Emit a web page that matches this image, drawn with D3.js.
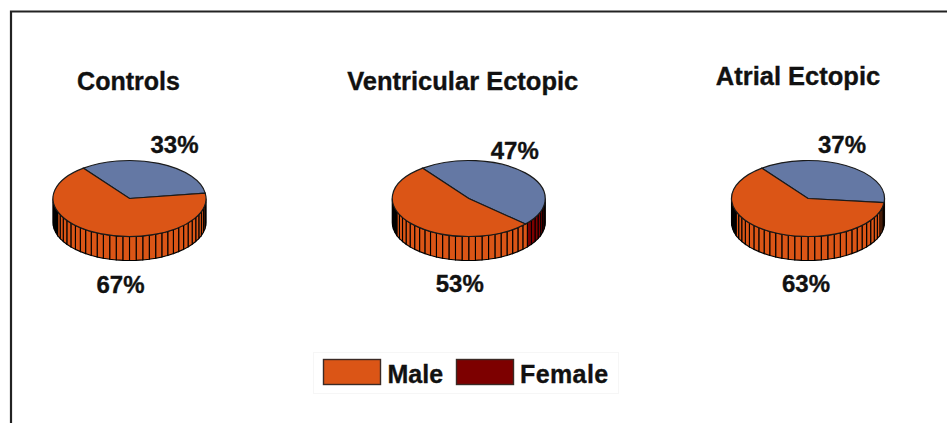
<!DOCTYPE html>
<html>
<head>
<meta charset="utf-8">
<script src="https://cdn.jsdelivr.net/npm/d3@7"></script>
<style>
  html, body { margin: 0; padding: 0; background: #fff; }
  text { font-family: "Liberation Sans", Arial, sans-serif; font-weight: bold; fill: #111; stroke: #111; stroke-width: 0.35; }
</style>
</head>
<body>
<div class="canvas"></div>
<script>
const categories = ['Controls', 'Ventricular Ectopic', 'Atrial Ectopic']
const male = [67, 53, 63]
const female = [33, 47, 37]
const legendLabels = ['Male', 'Female']

const width = 947, height = 423
const rx = 76.5, ry = 38, depth = 24, cy = 198.5
const ribStep = 5
const startDeg = -37
const darkFrom = 250 // ribs on the far left merge into black

const colors = {Male: '#db5516', Female: '#7d0000', top: '#6478a4', line: '#1a1a1a'}

// label spots around each pie, relative to its centre
const titlePos = [[-1, -108.5], [-6, -108.5], [-10, -113.5]]
const femalePos = [[45, -46], [46, -40], [34, -46]]
const malePos = [[-9, 94.5], [-9, 93.5], [-2, 93.5]]

const svg = d3.select('.canvas')
    .append('svg')
    .attr('width', width)
    .attr('height', height)
    .style('display', 'block')

// frame, open on the right and bottom
svg.append('path')
    .attr('d', `M11,${height} V11.5 H${width}`)
    .attr('fill', 'none')
    .attr('stroke', '#222')
    .attr('stroke-width', 2.2)

const x = d3.scalePoint()
    .domain(categories)
    .range([129.5, 808])

const pie = d3.pie()
    .sort(null)
    .value(d => d.value)
    .startAngle(startDeg * Math.PI / 180)
    .endAngle((startDeg + 360) * Math.PI / 180)

const arc = d3.arc()
    .innerRadius(0)
    .outerRadius(rx)

const rim = (deg, drop) => {
    const a = deg * Math.PI / 180
    return [rx * Math.sin(a), -ry * Math.cos(a) + drop]
}
const line = d3.line()

categories.forEach((name, i) => {
    const slices = pie([
        {key: 'Female', value: female[i]},
        {key: 'Male', value: male[i]}
    ])
    const femaleEnd = slices[0].endAngle * 180 / Math.PI

    const g = svg.append('g')
        .attr('transform', `translate(${x(name)}, ${cy})`)

    // side wall, cut in thin ribs along the front half
    g.selectAll('path.rib')
        .data(d3.range(90, 270, ribStep))
        .enter()
        .append('path')
        .attr('class', 'rib')
        .attr('d', d => line([rim(d, 0), rim(d + ribStep, 0), rim(d + ribStep, depth), rim(d, depth)]) + 'Z')
        .attr('fill', d => {
            if (d >= darkFrom) return '#000'
            return d + ribStep / 2 < femaleEnd ? colors.Female : colors.Male
        })
        .attr('stroke', '#000')
        .attr('stroke-width', 1.1)

    // top face: circle arcs squashed into an ellipse
    g.append('g')
        .attr('transform', `scale(1, ${ry / rx})`)
        .selectAll('path.slice')
        .data(slices)
        .enter()
        .append('path')
        .attr('class', 'slice')
        .attr('d', arc)
        .attr('fill', d => d.data.key === 'Female' ? colors.top : colors.Male)
        .attr('stroke', colors.line)
        .attr('stroke-width', 1.2)
        .attr('vector-effect', 'non-scaling-stroke')

    g.append('text')
        .attr('x', titlePos[i][0])
        .attr('y', titlePos[i][1])
        .attr('text-anchor', 'middle')
        .attr('font-size', i === 0 ? 25 : 25.5)
        .text(name)

    g.append('text')
        .attr('x', femalePos[i][0])
        .attr('y', femalePos[i][1])
        .attr('text-anchor', 'middle')
        .attr('font-size', 24)
        .text(female[i] + '%')

    g.append('text')
        .attr('x', malePos[i][0])
        .attr('y', malePos[i][1])
        .attr('text-anchor', 'middle')
        .attr('font-size', 24)
        .text(male[i] + '%')
})

// legend
const legend = svg.append('g')
    .attr('transform', 'translate(313, 352)')

legend.append('rect')
    .attr('x', 0.5)
    .attr('y', 0.5)
    .attr('width', 305)
    .attr('height', 41)
    .attr('fill', '#fff')
    .attr('stroke', '#f6f6f6')

const legendX = d3.scalePoint()
    .domain(legendLabels)
    .range([10.5, 143.5])

const items = legend.selectAll('g.item')
    .data(legendLabels)
    .enter()
    .append('g')
    .attr('class', 'item')
    .attr('transform', d => `translate(${legendX(d)}, 7.5)`)

items.append('rect')
    .attr('width', 57)
    .attr('height', 25)
    .attr('fill', d => colors[d])
    .attr('stroke', '#3a2a25')
    .attr('stroke-width', 1.4)

items.append('text')
    .attr('x', d => d === 'Female' ? 63.5 : 64)
    .attr('y', 23)
    .attr('font-size', 25)
    .attr('letter-spacing', d => d === 'Female' ? 0.4 : 0)
    .text(d => d)
</script>
</body>
</html>
